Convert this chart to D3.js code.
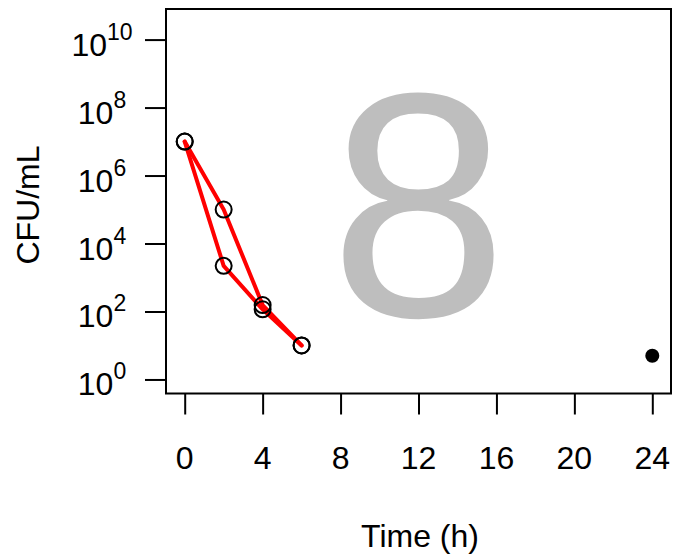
<!DOCTYPE html>
<html>
<head>
<meta charset="utf-8">
<script src="https://cdn.jsdelivr.net/npm/d3@7"></script>
<style>
  html, body { margin: 0; padding: 0; background: #fff; }
  svg { display: block; }
  text { font-family: "Liberation Sans", Arial, Helvetica, sans-serif; }
</style>
</head>
<body>
<svg id="chart" width="676" height="556"></svg>
<script>
// ---- data ----
const times = [0, 2, 4, 6];
const seriesA = [1e7, 1e5, 155, 10];
const seriesB = [1e7, 2.2e3, 116, 10];
const filledTimes = [24];
const filledValues = [5];
const xTicks = [0, 4, 8, 12, 16, 20, 24];
const yTickExponents = [0, 2, 4, 6, 8, 10];
const panelLabel = "8";
const xTitle = "Time (h)";
const yTitle = "CFU/mL";

// ---- layout ----
const W = 676, H = 556;
const box = { left: 166, right: 671, top: 9, bottom: 393.5 };

const svg = d3.select("#chart");

const x = d3.scaleLinear().domain([-0.96, 24.96]).range([box.left, box.right]);
const y = d3.scaleLog().domain([Math.pow(10, -0.413), Math.pow(10, 10.9)]).range([box.bottom, box.top]);

// panel label (big grey digit)
svg.append("text")
  .attr("x", (box.left + box.right) / 2)
  .attr("y", 316)
  .attr("text-anchor", "middle")
  .attr("font-size", 320)
  .attr("fill", "#bebebe")
  .text(panelLabel);

// plot box
svg.append("rect")
  .attr("x", box.left).attr("y", box.top)
  .attr("width", box.right - box.left).attr("height", box.bottom - box.top)
  .attr("fill", "none").attr("stroke", "#000").attr("stroke-width", 2);

// x axis ticks
const xAxisG = svg.append("g").attr("transform", `translate(0,${box.bottom})`);
xAxisG.call(d3.axisBottom(x).tickValues(xTicks).tickSize(21).tickFormat(""));
xAxisG.select(".domain").remove();
xAxisG.selectAll(".tick line").attr("stroke", "#000").attr("stroke-width", 2);
svg.append("g").selectAll("text").data(xTicks).join("text")
  .attr("x", d => x(d))
  .attr("y", 469)
  .attr("text-anchor", "middle")
  .attr("font-size", 32)
  .attr("fill", "#000")
  .text(d => d);

// y axis ticks
const yAxisG = svg.append("g").attr("transform", `translate(${box.left},0)`);
yAxisG.call(d3.axisLeft(y).tickValues(yTickExponents.map(e => Math.pow(10, e))).tickSize(21).tickFormat(""));
yAxisG.select(".domain").remove();
yAxisG.selectAll(".tick line").attr("stroke", "#000").attr("stroke-width", 2);
const yLab = svg.append("g").selectAll("text").data(yTickExponents).join("text")
  .attr("x", 102)
  .attr("y", d => y(Math.pow(10, d)) + 16)
  .attr("text-anchor", "middle")
  .attr("fill", "#000");
yLab.append("tspan").attr("font-size", 32).text("10");
yLab.append("tspan").attr("font-size", 23).attr("dy", -16).text(d => d);

// axis titles
svg.append("text")
  .attr("x", 420).attr("y", 547)
  .attr("text-anchor", "middle")
  .attr("font-size", 32)
  .text(xTitle);
svg.append("text")
  .attr("transform", "translate(39,205) rotate(-90)")
  .attr("text-anchor", "middle")
  .attr("font-size", 32)
  .text(yTitle);

// series
const line = d3.line().x(d => x(d[0])).y(d => y(d[1]));
[seriesA, seriesB].forEach(s => {
  const pts = times.map((t, i) => [t, s[i]]);
  svg.append("path")
    .attr("d", line(pts))
    .attr("fill", "none")
    .attr("stroke", "#ff0000")
    .attr("stroke-width", 4)
    .attr("stroke-linejoin", "round")
    .attr("stroke-linecap", "round");
});
[seriesA, seriesB].forEach(s => {
  svg.append("g").selectAll("circle").data(times.map((t, i) => [t, s[i]])).join("circle")
    .attr("cx", d => x(d[0]))
    .attr("cy", d => y(d[1]))
    .attr("r", 8)
    .attr("fill", "none")
    .attr("stroke", "#000")
    .attr("stroke-width", 2);
});

// filled point
svg.append("g").selectAll("circle").data(filledTimes.map((t, i) => [t, filledValues[i]])).join("circle")
  .attr("cx", d => x(d[0]))
  .attr("cy", d => y(d[1]))
  .attr("r", 7)
  .attr("fill", "#000");
</script>
</body>
</html>
